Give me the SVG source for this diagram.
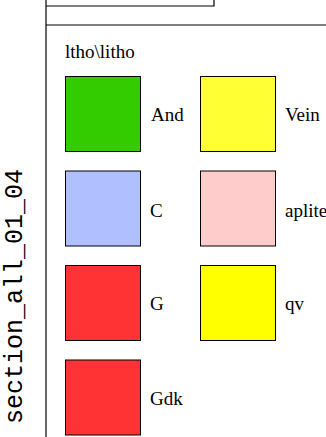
<svg xmlns="http://www.w3.org/2000/svg" width="326" height="437" viewBox="0 0 326 437">
<style>
.sw{stroke:#000;stroke-width:1}
.lbl{font-family:'Liberation Serif','Times New Roman',serif;font-size:19px;fill:#000}
.mono{font-family:'Liberation Mono','Courier New',monospace;font-size:25px;fill:#000}
.frame{stroke:#000;stroke-width:1.2;fill:none}
</style>
<rect width="326" height="437" fill="#fff"/>
<g id="frame">
<line class="frame" x1="46" y1="0" x2="46" y2="437"/>
<polyline class="frame" points="46,6 214,6 214,0"/>
<line class="frame" x1="46" y1="25" x2="326" y2="25"/>
</g>
<text class="mono" text-anchor="middle" transform="translate(22,296.5) rotate(-90)">section_all_01_04</text>
<text class="lbl" x="65" y="58">ltho\litho</text>
<g id="And"><rect class="sw" x="65.5" y="76.5" width="75" height="75" fill="#33cc00"/><text class="lbl" x="151" y="121">And</text></g>
<g id="Vein"><rect class="sw" x="200.5" y="76.5" width="75" height="75" fill="#ffff33"/><text class="lbl" x="285" y="121">Vein</text></g>
<g id="C"><rect class="sw" x="65.5" y="171" width="75" height="75" fill="#b0bfff"/><text class="lbl" x="150" y="217">C</text></g>
<g id="aplite"><rect class="sw" x="200.5" y="171" width="75" height="75" fill="#ffcccc"/><text class="lbl" x="285" y="217">aplite</text></g>
<g id="G"><rect class="sw" x="65.5" y="265.5" width="75" height="75" fill="#ff3333"/><text class="lbl" x="150" y="310">G</text></g>
<g id="qv"><rect class="sw" x="200.5" y="265.5" width="75" height="75" fill="#ffff00"/><text class="lbl" x="285" y="310">qv</text></g>
<g id="Gdk"><rect class="sw" x="65.5" y="360" width="75" height="75" fill="#ff3333"/><text class="lbl" x="150" y="405">Gdk</text></g>
<g id="connectors"/>
</svg>
